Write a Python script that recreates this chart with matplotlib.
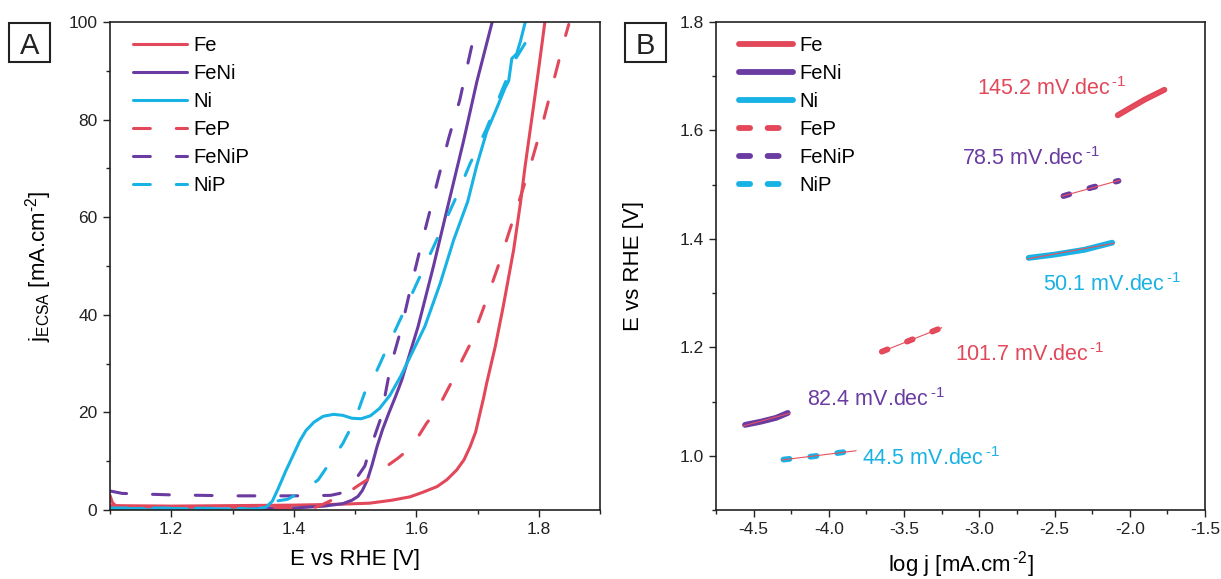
import numpy as np
import matplotlib.pyplot as plt
from matplotlib.patches import Rectangle
from matplotlib.lines import Line2D
from matplotlib.ticker import MultipleLocator, FormatStrFormatter

plt.rcParams['font.family'] = ['Liberation Sans', 'DejaVu Sans']
plt.rcParams['mathtext.fontset'] = 'custom'
plt.rcParams['mathtext.rm'] = 'Liberation Sans'
plt.rcParams['mathtext.it'] = 'Liberation Sans:italic'
plt.rcParams['mathtext.bf'] = 'Liberation Sans:bold'
plt.rcParams['axes.unicode_minus'] = False

RED = '#e2475a'
PURPLE = '#6a3ba0'
CYAN = '#18b2e4'

# ---- panel A: polarisation curves (E vs RHE [V], j_ECSA [mA cm-2]) ----
E_fe = [1.10, 1.20, 1.30, 1.40, 1.443, 1.48, 1.524, 1.56, 1.59, 1.61, 1.634, 1.65, 1.666,
        1.678, 1.688, 1.697, 1.704, 1.71, 1.715, 1.729, 1.742, 1.759, 1.770, 1.778, 1.791, 1.800, 1.810]
j_fe = [0.9, 0.8, 0.9, 1.0, 1.1, 1.2, 1.4, 2.0, 2.7, 3.6, 4.8, 6.2, 8.2,
        10.3, 13.0, 16.0, 19.8, 23.0, 26.0, 33.5, 41.7, 53.3, 62.8, 70.7, 82.3, 90.5, 100.0]

E_feni = [1.10, 1.20, 1.30, 1.40, 1.45, 1.48, 1.495, 1.505, 1.512, 1.52, 1.528, 1.536, 1.545,
          1.555, 1.566, 1.576, 1.603, 1.628, 1.653, 1.677, 1.699, 1.724]
j_feni = [0.15, 0.15, 0.2, 0.4, 0.8, 1.3, 2.0, 2.8, 4.0, 6.1, 9.3, 13.0, 16.5,
          19.8, 23.2, 26.5, 37.6, 49.9, 63.0, 75.5, 87.8, 100.0]

E_ni = [1.10, 1.20, 1.30, 1.34, 1.355, 1.365, 1.375, 1.387, 1.40, 1.41, 1.42, 1.433, 1.448,
        1.465, 1.48, 1.495, 1.51, 1.525, 1.54, 1.557, 1.575, 1.59, 1.614, 1.639, 1.661, 1.684,
        1.699, 1.715, 1.729, 1.745, 1.751, 1.756, 1.764, 1.770, 1.778]
j_ni = [0.3, 0.3, 0.2, 0.2, 0.6, 1.8, 4.5, 8.0, 11.5, 14.2, 16.3, 18.0, 19.2,
        19.6, 19.4, 18.8, 18.7, 19.3, 20.8, 23.5, 27.5, 31.4, 37.6, 46.4, 55.3, 63.2,
        70.7, 77.5, 81.6, 86.5, 88.0, 92.5, 93.5, 96.0, 100.0]

E_fep = [1.10, 1.104, 1.11, 1.20, 1.30, 1.40, 1.412, 1.425, 1.445, 1.47, 1.49, 1.505, 1.52,
         1.543, 1.57, 1.593, 1.617, 1.634, 1.656, 1.672, 1.688, 1.711, 1.733, 1.753, 1.771,
         1.789, 1.808, 1.824, 1.841, 1.849]
j_fep = [3.0, 1.5, 0.8, 0.6, 0.6, 0.5, -0.4, 0.1, 1.0, 2.5, 3.7, 5.0, 6.2,
         8.2, 10.6, 13.0, 17.8, 20.5, 25.8, 30.0, 34.0, 41.8, 49.7, 57.5, 64.5,
         71.7, 80.0, 87.8, 96.0, 99.5]

E_fenip = [1.10, 1.12, 1.20, 1.30, 1.40, 1.46, 1.475, 1.486, 1.494, 1.505, 1.516, 1.524, 1.533,
           1.541, 1.546, 1.558, 1.576, 1.591, 1.607, 1.623, 1.636, 1.653, 1.671, 1.691, 1.696]
j_fenip = [3.9, 3.4, 3.1, 2.9, 2.9, 3.0, 3.4, 4.0, 5.2, 7.0, 9.0, 12.3, 15.5,
           18.4, 21.4, 29.4, 37.4, 45.6, 53.8, 61.6, 68.0, 76.2, 84.0, 95.3, 96.5]

E_nip = [1.10, 1.20, 1.30, 1.32, 1.335, 1.35, 1.36, 1.39, 1.42, 1.44, 1.465, 1.48, 1.50,
         1.52, 1.53, 1.556, 1.584, 1.612, 1.647, 1.663, 1.688, 1.715, 1.74, 1.76, 1.781]
j_nip = [0.4, 0.4, 0.3, 0.3, 0.0, 0.3, 1.6, 2.2, 4.3, 6.2, 10.8, 13.6, 18.5,
         25.5, 27.0, 34.2, 41.8, 49.5, 59.1, 63.5, 71.0, 78.2, 86.0, 92.0, 96.3]

# ---- panel B: Tafel segments (log j, E) ----
lj_fe = [-2.08, -2.00, -1.90, -1.77]
Et_fe = [1.628, 1.641, 1.657, 1.675]
lj_feni = [-4.557, -4.45, -4.35, -4.273]
Et_feni = [1.057, 1.063, 1.070, 1.079]
lj_ni = [-2.672, -2.50, -2.30, -2.117]
Et_ni = [1.365, 1.371, 1.380, 1.393]
lj_fep = [-3.648, -3.45, -3.26]
Et_fep = [1.192, 1.214, 1.235]
lj_fenip = [-2.441, -2.25, -2.075]
Et_fenip = [1.479, 1.495, 1.507]
lj_nip = [-4.302, -4.10, -3.88]
Et_nip = [0.993, 0.999, 1.0075]

names = ['Fe', 'FeNi', 'Ni', 'FeP', 'FeNiP', 'NiP']
colors = [RED, PURPLE, CYAN, RED, PURPLE, CYAN]
slopes = ['145.2', '82.4', '50.1', '101.7', '78.5', '44.5']
slope_pos = [(-3.013, 1.678), (-4.147, 1.103), (-2.576, 1.315),
             (-3.16, 1.186), (-3.113, 1.549), (-3.781, 0.994)]

fig = plt.figure(figsize=(12.21, 5.79), dpi=100)
axA = fig.add_axes([110 / 1221, 1 - 510 / 579, 490 / 1221, 488 / 579])
axB = fig.add_axes([716 / 1221, 1 - 510 / 579, 489 / 1221, 488 / 579])

curves = [(E_fe, j_fe), (E_feni, j_feni), (E_ni, j_ni),
          (E_fep, j_fep), (E_fenip, j_fenip), (E_nip, j_nip)]
for i, (x, y) in enumerate(curves):
    if i < 3:
        axA.plot(x, y, color=colors[i], lw=2.2, label=names[i], solid_capstyle='round')
    else:
        axA.plot(x, y, color=colors[i], lw=2.2, label=names[i],
                 linestyle=(0, (5.5, 8.5)), dash_capstyle='round')

axA.set_xlim(1.1, 1.9)
axA.set_ylim(0, 100)
axA.xaxis.set_major_locator(MultipleLocator(0.2))
axA.xaxis.set_minor_locator(MultipleLocator(0.1))
axA.yaxis.set_major_locator(MultipleLocator(20))
axA.yaxis.set_minor_locator(MultipleLocator(10))
axA.xaxis.set_major_formatter(FormatStrFormatter('%.1f'))
axA.set_xticks([1.2, 1.4, 1.6, 1.8])
axA.set_xlabel('E vs RHE [V]', fontsize=16, labelpad=8)
axA.set_ylabel(r'j$_{\mathrm{ECSA}}$ [mA.cm$^{\text{-2}}$]', fontsize=16)
axA.yaxis.set_label_coords(-0.115, 0.5)
axA.legend(loc='upper left', bbox_to_anchor=(0.047, 0.971), frameon=False, fontsize=14.5,
           handlelength=2.7, handletextpad=0.3, labelspacing=0.45, borderpad=0, borderaxespad=0)

# panel B
tafel = [(lj_fe, Et_fe), (lj_feni, Et_feni), (lj_ni, Et_ni),
         (lj_fep, Et_fep), (lj_fenip, Et_fenip), (lj_nip, Et_nip)]
for i, (x, y) in enumerate(tafel):
    if i < 3:
        axB.plot(x, y, color=colors[i], lw=4.2, solid_capstyle='round')
    else:
        axB.plot(x, y, color=colors[i], lw=4.2, linestyle=(0, (1.05, 3.6)),
                 dash_capstyle='round')
    k, b = np.polyfit(x, y, 1)
    xf = np.array([x[0] - 0.01, x[-1] + (0.06 if i == 5 else 0.01)])
    axB.plot(xf, k * xf + b, color='#e8505f', lw=0.8)

for i, s in enumerate(slopes):
    axB.text(slope_pos[i][0], slope_pos[i][1], s + r' mV.dec$^{\,\text{-1}}$', color=colors[i],
             fontsize=15.5, ha='left', va='center')

axB.set_xlim(-4.75, -1.5)
axB.set_ylim(0.9, 1.8)
axB.xaxis.set_major_locator(MultipleLocator(0.5))
axB.xaxis.set_minor_locator(MultipleLocator(0.25))
axB.yaxis.set_major_locator(MultipleLocator(0.2))
axB.yaxis.set_minor_locator(MultipleLocator(0.1))
axB.xaxis.set_major_formatter(FormatStrFormatter('%.1f'))
axB.yaxis.set_major_formatter(FormatStrFormatter('%.1f'))
axB.set_xlabel(r'log j [mA.cm$^{\,\text{-2}}$]', fontsize=16, labelpad=8)
axB.set_ylabel('E vs RHE [V]', fontsize=16)
axB.yaxis.set_label_coords(-0.147, 0.5)

handlesB = []
for i in range(6):
    if i < 3:
        h = Line2D([], [], color=colors[i], lw=4.2, solid_capstyle='round')
    else:
        h = Line2D([], [], color=colors[i], lw=4.2, linestyle=(0, (1.9, 3.0)),
                   dash_capstyle='round')
    handlesB.append(h)
axB.legend(handlesB, names, loc='upper left', bbox_to_anchor=(0.047, 0.971), frameon=False,
           fontsize=14.5, handlelength=2.7, handletextpad=0.3, labelspacing=0.45,
           borderpad=0, borderaxespad=0)

for ax in (axA, axB):
    for sp in ax.spines.values():
        sp.set_linewidth(1.2)
        sp.set_color('#222222')
    ax.tick_params(which='major', direction='out', length=5, width=1.0, labelsize=12.5,
                   pad=4, colors='#222222')
    ax.tick_params(which='minor', direction='out', length=3, width=1.0, colors='#222222')
    ax.tick_params(labelcolor='#222222')

# panel letters in boxes
for label, x0 in (('A', 9), ('B', 625)):
    fig.patches.append(Rectangle((x0 / 1221, 1 - 62 / 579), 41 / 1221, 39 / 579,
                                 transform=fig.transFigure, fill=False, lw=1.5,
                                 edgecolor='#222222'))
    fig.text((x0 + 20.5) / 1221, 1 - 53.5 / 579, label, fontsize=21, ha='center',
             va='baseline', color='#222222')

fig.savefig('out.png', dpi=100)
